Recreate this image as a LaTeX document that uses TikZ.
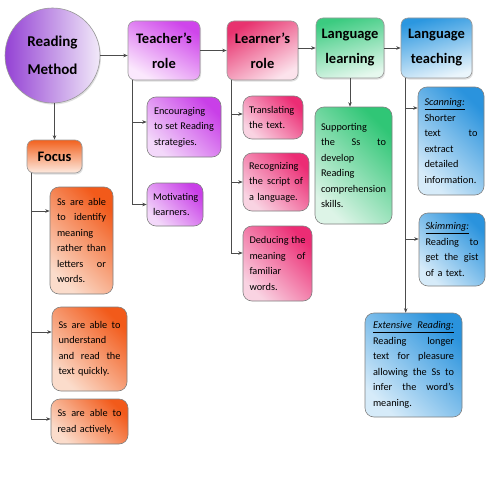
\documentclass[tikz,border=0pt]{standalone}
\usepackage{fontspec}
\setmainfont{Carlito}
\usetikzlibrary{arrows.meta,shadows,calc}
\newcommand\curw{10pt}
\newcommand\J[1]{{\spaceskip=\fontdimen2\font plus 1fil\relax\makebox[\curw][s]{#1}}}
\definecolor{vio}{HTML}{9442D4}
\definecolor{vioL}{HTML}{F2EAF9}
\definecolor{mag}{HTML}{CF45EB}
\definecolor{magL}{HTML}{FBE8FD}
\definecolor{pnk}{HTML}{E8336F}
\definecolor{pnkL}{HTML}{FCE3EC}
\definecolor{grn}{HTML}{3BCB80}
\definecolor{grnL}{HTML}{E6F8EE}
\definecolor{blu}{HTML}{2B97E0}
\definecolor{bluL}{HTML}{EAF5FC}
\definecolor{org}{HTML}{F2621F}
\definecolor{orgL}{HTML}{FDEAE0}
\definecolor{kmag}{HTML}{C93FE8}
\definecolor{kmagL}{HTML}{F3D8FA}
\definecolor{kpnk}{HTML}{EC2C74}
\definecolor{kpnkL}{HTML}{F9D3E2}
\definecolor{kgrn}{HTML}{30C676}
\definecolor{kgrnL}{HTML}{DDF4E7}
\definecolor{korg}{HTML}{F25A1A}
\definecolor{korgL}{HTML}{FBDCCB}
\definecolor{kblu}{HTML}{2A93DD}
\definecolor{kbluL}{HTML}{D6EBF9}
\begin{document}
\begin{tikzpicture}[x=1pt,y=-1pt,
  line/.style={draw=black!70, line width=0.6pt},
  arr/.style={line, -{Stealth[length=4.5pt,width=3.5pt]}},
  head/.style n args={3}{draw=black!40, line width=0.6pt, rounded corners=7pt,
    align=center, font=\bfseries\fontsize{14.5}{25}\selectfont, inner sep=0pt,
    top color=#1, bottom color=#2, shading angle=#3,
    drop shadow={opacity=0.25,shadow xshift=1pt,shadow yshift=-1.5pt}},
  kid/.style n args={2}{draw=black!50, line width=0.6pt, rounded corners=9pt,
    align=left, font=\fontsize{10.3}{15.5}\selectfont, inner sep=0pt,
    top color=#1, bottom color=#2, shading angle=-45},
  tw/.style={text width=#1pt, execute at begin node={\renewcommand\curw{#1pt}}},
]
\useasboundingbox[fill=white] (0,0) rectangle (495,495);

% top row
\node[circle, draw=black!40, line width=0.6pt, minimum size=95pt, inner sep=0pt,
  left color=vio, right color=vioL, align=center,
  font=\bfseries\fontsize{15}{28}\selectfont,
  drop shadow={opacity=0.25,shadow xshift=1pt,shadow yshift=-1.5pt}]
  (rm) at (52.5,55.5) {Reading\\Method};
\node[head={mag}{magL}{-30}, minimum width=72pt, minimum height=59pt] (tr) at (164,50.5) {Teacher's\\role};
\node[head={pnk}{pnkL}{30}, minimum width=71pt, minimum height=59pt] (lr) at (262.5,50.5) {Learner's\\role};
\node[head={grn}{grnL}{15}, minimum width=68pt, minimum height=60pt] (ll) at (350,48) {Language\\learning};
\node[head={blu}{bluL}{15}, minimum width=71pt, minimum height=60pt] (lt) at (436.5,48) {Language\\teaching};
\node[head={org}{orgL}{0}, minimum width=55pt, minimum height=33pt] (fo) at (54.5,156.5) {Focus};

% focus children
\node[kid={korg}{korgL}, minimum width=63pt, minimum height=107pt, tw=49] (f1) at (81.5,240.5)
  {\J{Ss are able}\\\J{to identify}\\meaning\\\J{rather than}\\\J{letters or}\\words.};
\node[kid={korg}{korgL}, minimum width=75pt, minimum height=84pt, tw=62] (f2) at (89.5,349)
  {\J{Ss are able to}\\understand\\\J{and read the}\\text quickly.};
\node[kid={korg}{korgL}, minimum width=77pt, minimum height=45pt, tw=64] (f3) at (89.5,421.5)
  {\J{Ss are able to}\\read actively.};

% teacher children
\node[kid={kmag}{kmagL}, minimum width=74pt, minimum height=60pt, tw=60] (t1) at (184,127)
  {Encouraging\\\J{to set Reading}\\strategies.};
\node[kid={kmag}{kmagL}, minimum width=56pt, minimum height=43pt, tw=44] (t2) at (175,204.5)
  {Motivating\\learners.};

% learner children
\node[kid={kpnk}{kpnkL}, minimum width=60pt, minimum height=43pt, tw=48] (l1) at (273,117.5)
  {Translating\\the text.};
\node[kid={kpnk}{kpnkL}, minimum width=66pt, minimum height=58pt, tw=54] (l2) at (276,182)
  {Recognizing\\\J{the script of}\\a language.};
\node[kid={kpnk}{kpnkL}, minimum width=69pt, minimum height=75pt, tw=56] (l3) at (277.5,263.5)
  {\J{Deducing the}\\\J{meaning of}\\familiar\\words.};

% language learning child
\node[kid={kgrn}{kgrnL}, minimum width=77pt, minimum height=117pt, tw=65] (lc) at (353.5,165.5)
  {Supporting\\\J{the Ss to}\\develop\\Reading\\comprehension\\skills.};

% language teaching children
\node[kid={kblu}{kbluL}, minimum width=66pt, minimum height=108pt, tw=53] (s1) at (451,141)
  {\underline{\textit{Scanning:}}\\Shorter\\\J{text to}\\extract\\detailed\\information.};
\node[kid={kblu}{kbluL}, minimum width=66pt, minimum height=73pt, tw=53] (s2) at (452,249.5)
  {\underline{\textit{Skimming:}}\\\J{Reading to}\\\J{get the gist}\\of a text.};
\node[kid={kblu}{kbluL}, minimum width=97pt, minimum height=104pt, tw=81] (ex) at (413.5,365)
  {\underline{\J{\textit{Extensive Reading:}}}\\\J{Reading longer}\\\J{text for pleasure}\\\J{allowing the Ss to}\\\J{infer the word's}\\meaning.};

% trunks
\coordinate (ft) at ([xshift=5pt]fo.south west);
\coordinate (tt) at ([xshift=5pt]tr.south west);
\coordinate (lt0) at ([xshift=5pt]lr.south west);
\coordinate (gt) at ([xshift=5pt]lt.south west);

% connectors top row
\draw[arr] (rm.east) -- (rm.east -| tr.west);
\draw[arr] (tr.east) -- (lr.west);
\draw[arr] (lr.east |- ll.west) -- (ll.west);
\draw[arr] (ll.east) -- (lt.west);
\draw[arr] (fo.north |- rm.south) -- (fo.north);
\draw[arr] (ll.south) -- (ll.south |- lc.north);

% branches
\draw[arr] (ft) |- ([yshift=29.5pt]f1.west);
\draw[arr] (ft) |- ([yshift=17pt]f2.west);
\draw[arr] (ft) |- ([yshift=2.5pt]f3.west);
\draw[arr] (tt) |- ([yshift=5pt]t1.west);
\draw[arr] (tt) |- (t2.west);
\draw[arr] (lt0) |- ([yshift=3.5pt]l1.west);
\draw[arr] (lt0) |- (l2.west);
\draw[arr] (lt0) |- ([yshift=10.5pt]l3.west);
\draw[arr] (gt) |- ([yshift=33pt]s1.west);
\draw[arr] (gt) |- ([yshift=10.5pt]s2.west);
\draw[arr] (gt) -- (gt |- ex.north);
\end{tikzpicture}
\end{document}
